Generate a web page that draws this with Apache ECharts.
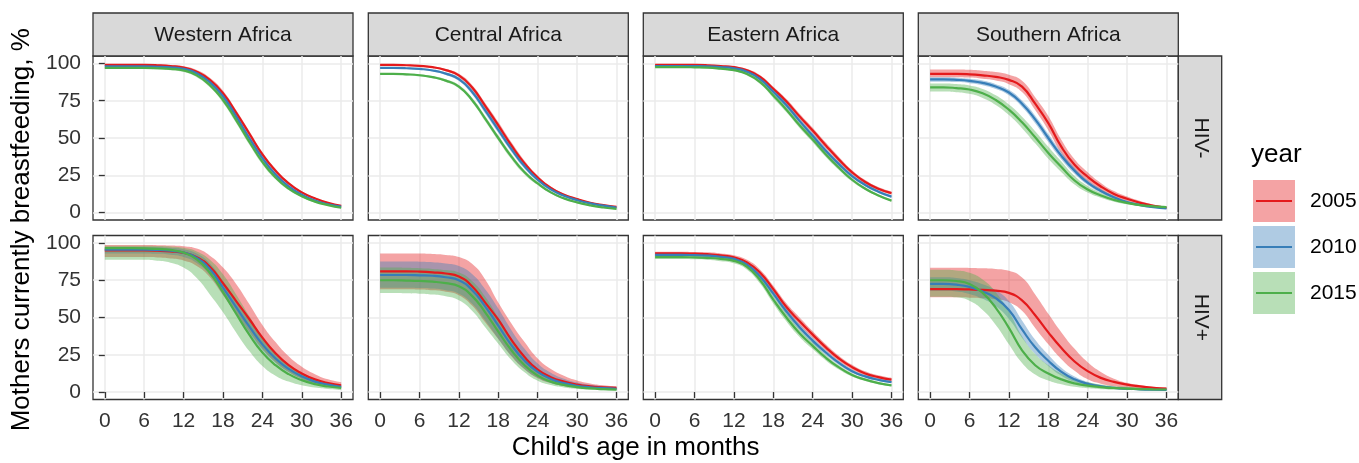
<!DOCTYPE html>
<html><head><meta charset="utf-8">
<script src="https://cdn.jsdelivr.net/npm/echarts@6/dist/echarts.min.js"></script>
<style>html,body{margin:0;padding:0;background:#fff}#c{width:1359px;height:463px}</style>
</head><body><div id="c"></div>
<script>
// ---------- data ----------
const months = [0,2,4,6,8,10,12,14,16,18,20,22,24,26,28,30,32,34,36];
const xTicks = [0,6,12,18,24,30,36];
const yTicks = [0,25,50,75,100];
const regions = ['Western Africa','Central Africa','Eastern Africa','Southern Africa'];
const hivStatus = ['HIV-','HIV+'];
const years = ['2005','2010','2015'];

// Western Africa, HIV-
const wn05   = [99,99,99,99,98.8,98.3,97.3,94.5,89,80,67,53,39,28,19.5,13.5,9.5,6.5,4.5];
const wn05Lo = [98.4,98.4,98.4,98.3,98.1,97.5,96.4,93.3,87.5,78.3,65.2,51.3,37.4,26.7,18.5,12.8,8.9,6.1,4.1];
const wn05Hi = [99.4,99.4,99.4,99.4,99.3,98.9,98.1,95.6,90.4,81.7,68.8,54.7,40.6,29.3,20.5,14.2,10.1,6.9,4.9];
const wn10   = [98,98,98,98,97.8,97.4,96.4,93.5,87.5,78,64.5,50,36.5,25.5,17.5,12,8,5.5,4];
const wn10Lo = [97.5,97.5,97.5,97.4,97.2,96.7,95.6,92.4,86,76.4,62.8,48.3,35,24.4,16.7,11.4,7.5,5.2,3.7];
const wn10Hi = [98.5,98.5,98.5,98.5,98.3,98,97.1,94.5,88.9,79.5,66.2,51.7,38,26.6,18.3,12.6,8.5,5.9,4.3];
const wn15   = [97,97,97,97,96.8,96.4,95.3,92,85.5,75.5,62,47.5,34,23.5,16,11,7.3,5,3.2];
const wn15Lo = [96.3,96.3,96.3,96.2,96,95.5,94.3,90.8,84,73.7,60.1,45.7,32.4,22.3,15.1,10.3,6.8,4.6,2.9];
const wn15Hi = [97.6,97.6,97.6,97.6,97.5,97.2,96.2,93.2,87,77.3,63.9,49.3,35.6,24.7,16.9,11.7,7.8,5.4,3.5];

// Central Africa, HIV-
const cn05   = [99,99,98.8,98.4,97.5,95.5,92,84,71.5,58.5,45,33,23.5,16.5,12,9,6.6,5,3.8];
const cn05Lo = [98.6,98.6,98.4,97.9,96.9,94.7,90.8,82.3,69.4,56.3,42.9,31.2,22.2,15.5,11.2,8.4,6.1,4.6,3.5];
const cn05Hi = [99.3,99.3,99.2,98.8,98,96.2,93.1,85.6,73.5,60.7,47.1,34.8,24.8,17.5,12.8,9.6,7.1,5.4,4.1];
const cn10   = [97,97,96.8,96.3,95.3,93.2,89.5,81,68.5,55.5,42.5,31,22,15.5,11.2,8.3,6.1,4.6,3.4];
const cn10Lo = [96.5,96.5,96.3,95.7,94.6,92.3,88.2,79.3,66.5,53.5,40.6,29.4,20.8,14.6,10.5,7.7,5.7,4.2,3.1];
const cn10Hi = [97.4,97.4,97.2,96.8,95.9,94,90.7,82.6,70.4,57.5,44.4,32.6,23.2,16.4,11.9,8.8,6.5,5,3.7];
const cn15   = [93,93,92.7,92.1,90.8,88.5,84.5,75.5,63,50,37.5,27,19.5,13.5,9.5,6.8,4.8,3.4,2.4];
const cn15Lo = [92.3,92.3,92,91.4,90,87.6,83.3,74,61.2,48.2,35.8,25.6,18.4,12.7,8.9,6.3,4.4,3.1,2.1];
const cn15Hi = [93.6,93.6,93.3,92.8,91.6,89.4,85.6,77,64.8,51.8,39.2,28.4,20.6,14.3,10.1,7.3,5.2,3.7,2.7];

// Eastern Africa, HIV-
const en05   = [99,99,99,99,98.8,98.3,97.5,95.5,91,83,74.5,64.5,55,45,35.5,27,20.5,16,13];
const en05Lo = [98.7,98.7,98.7,98.6,98.4,97.8,96.8,94.6,89.8,81.5,72.8,62.7,53.1,43.1,33.8,25.6,19.3,14.9,12];
const en05Hi = [99.3,99.3,99.3,99.3,99.1,98.7,98.1,96.3,92.1,84.4,76.1,66.3,56.9,46.9,37.3,28.4,21.8,17.1,14.1];
const en10   = [98.3,98.3,98.3,98.2,98,97.5,96.7,94.5,89.5,81,72,61.5,51.5,41.5,32.5,24.5,18.5,14,10.7];
const en10Lo = [98,98,98,97.9,97.6,97,96,93.6,88.3,79.5,70.3,59.7,49.7,39.8,31,23.3,17.5,13.1,9.9];
const en10Hi = [98.6,98.6,98.6,98.5,98.3,97.9,97.3,95.3,90.6,82.4,73.6,63.2,53.3,43.2,34,25.7,19.5,14.9,11.5];
const en15   = [97.5,97.5,97.5,97.4,97.2,96.5,95.5,93,87.5,78.5,69,58.5,49,39,30,22,16,11.5,8];
const en15Lo = [97.1,97.1,97.1,97,96.7,95.9,94.7,92,86.2,76.9,67.2,56.7,47.2,37.3,28.6,20.8,15.1,10.8,7.4];
const en15Hi = [97.9,97.9,97.9,97.8,97.6,97,96.2,93.9,88.7,80,70.7,60.3,50.8,40.7,31.4,23.2,16.9,12.2,8.6];

// Southern Africa, HIV-
const sn05   = [93,93,93,92.7,92,91,89,84.5,73,60,44,32,24,17.5,12.5,9.2,6.5,4.5,3.2];
const sn05Lo = [90.8,90.8,90.8,90.5,89.7,88.5,86.1,80.8,68.7,55.2,39.7,28.5,21.1,15.2,10.7,7.8,5.4,3.7,2.6];
const sn05Hi = [95.9,95.9,95.9,95.7,95.1,94.2,92.4,88.4,77.4,64.8,48.7,35.8,27.1,19.9,14.4,10.7,7.7,5.4,3.9];
const sn10   = [89.3,89.3,89,88.3,87,84.5,80.5,73,62.5,50,38,28,20,14.5,10.2,7,5,3.6,2.8];
const sn10Lo = [87.8,87.8,87.5,86.8,85.4,82.8,78.6,70.8,59.9,47.3,35.6,26,18.5,13.3,9.3,6.3,4.5,3.2,2.5];
const sn10Hi = [90.7,90.7,90.4,89.7,88.5,86.1,82.3,75.1,65,52.7,40.5,30.1,21.6,15.8,11.2,7.7,5.6,4,3.1];
const sn15   = [84,84,83.5,82.5,80,75.5,69,60.5,50.5,40,30.5,21.5,15.5,11.5,8.5,6.5,5,4.2,3.6];
const sn15Lo = [81.2,81.2,80.7,79.6,76.9,72.2,65.4,56.6,46.4,36,27,18.8,13.4,9.9,7.3,5.5,4.2,3.5,3];
const sn15Hi = [86.6,86.6,86.2,85.2,82.9,78.6,72.4,64.3,54.6,44.1,34.2,24.5,17.8,13.3,9.8,7.6,5.9,5,4.3];

// Western Africa, HIV+
const wp05   = [95,95,95,95,94.8,94.3,93.3,90.5,84,73,61,49,36.5,26,18,12.5,8.5,6,4.5];
const wp05Lo = [90.5,90.5,90.5,90.5,90.2,89.5,88.2,84.5,77,65,52.5,40.5,29,20,13.5,9,6,4.2,3];
const wp05Hi = [98.6,98.6,98.6,98.6,98.5,98.3,97.8,96.2,91.5,83.5,72.5,59,45,33.5,24,17,12,8.5,6.5];
const wp10   = [95.5,95.5,95.5,95.5,95.3,94.8,93.5,90,82.5,70,57,44,32,22.5,15.5,10.5,7,5,3.5];
const wp10Lo = [93,93,93,93,92.7,92.1,90.6,86.6,78.5,65.5,52.5,39.5,28.2,19.5,13.2,8.8,5.8,4.1,2.8];
const wp10Hi = [97.3,97.3,97.3,97.3,97.2,96.8,95.8,92.9,86.2,74.4,61.5,48.5,36,25.7,18,12.4,8.4,6,4.3];
const wp15   = [96.5,96.5,96.5,96.4,96,95.3,93.5,89,80,67,52.5,38.5,26.5,18,12,8,5.3,3.7,2.7];
const wp15Lo = [88.8,88.8,88.8,88.7,88,86.8,83.5,76.5,65.5,53.5,40,27.5,17.5,11,7,4.5,3,2,1.3];
const wp15Hi = [98.2,98.2,98.2,98.2,98,97.7,96.7,94.3,88.8,79,65.5,51,37,26.5,18.5,12.5,8.5,6,4.3];

// Central Africa, HIV+
const cp05   = [81,81,81,80.8,80.3,79.5,77.5,71,60,48.5,35,23.5,15,10,7,5,3.8,3.2,2.8];
const cp05Lo = [69,69,69,68.8,68.2,67.3,65,58,46.8,35.5,24,15.3,9.3,6,4.1,2.9,2.2,1.8,1.6];
const cp05Hi = [93,93,93,92.9,92.6,92,90.6,86,75.5,60,46,33.5,22.5,15.5,11,7.8,5.8,4.6,3.9];
const cp10   = [78.5,78.5,78.5,78.3,78,77,75,68.5,57.5,44.5,31.5,21,13.5,8.8,6,4.2,3.2,2.6,2.2];
const cp10Lo = [70,70,70,69.8,69.4,68.3,66,59.2,48,35.8,24.3,15.5,9.6,6.1,4.1,2.8,2.1,1.7,1.4];
const cp10Hi = [87.5,87.5,87.5,87.4,87.1,86.3,84.6,79.2,69,56,41.5,29,19.2,13,9,6.4,4.9,4,3.4];
const cp15   = [75,75,74.8,74.5,74,73,71,64.5,53.5,40.5,28,18,11,7,4.8,3.3,2.4,1.9,1.6];
const cp15Lo = [66.5,66.5,66.3,66,65.4,64.2,61.5,54.5,43.5,32.4,21.5,13.2,7.5,4.7,3.1,2.1,1.5,1.2,1];
const cp15Hi = [83.5,83.5,83.3,83,82.6,81.8,80.2,74.5,64,50,35.5,23.8,15.3,10,7,5,3.7,2.9,2.5];

// Eastern Africa, HIV+
const ep05   = [93,93,93,92.8,92.5,91.7,90.3,87,80,69,57,47.5,38.5,30,22.5,16.7,12.5,10,8.3];
const ep05Lo = [91.8,91.8,91.8,91.6,91.2,90.3,88.7,85.1,77.8,66.6,54.5,45,36.2,27.9,20.7,15.2,11.2,8.8,7.2];
const ep05Hi = [94.1,94.1,94.1,93.9,93.7,93,91.8,88.7,82.1,71.3,59.5,50,40.8,32.1,24.4,18.3,13.9,11.2,9.5];
const ep10   = [92,92,92,91.8,91.5,90.7,89.3,85.5,77.5,66,54,43.5,34.5,26.5,19.5,14,10.5,8.2,6.7];
const ep10Lo = [91,91,91,90.8,90.4,89.5,88,84,75.6,63.9,51.8,41.4,32.6,24.8,18.1,12.9,9.6,7.4,6];
const ep10Hi = [93,93,93,92.8,92.5,91.8,90.5,86.9,79.3,68.1,56.2,45.6,36.4,28.2,20.9,15.2,11.4,9,7.4];
const ep15   = [90.5,90.5,90.5,90.3,90,89.3,88,84,75,62,50,39.5,31,23,16.5,11.5,8.3,6,4.5];
const ep15Lo = [89.2,89.2,89.2,89,88.6,87.8,86.4,82.1,72.6,59.4,47.3,37,28.8,21.2,15.1,10.4,7.4,5.3,3.9];
const ep15Hi = [91.7,91.7,91.7,91.5,91.3,90.7,89.5,85.8,77.3,64.5,52.6,42,33.2,24.8,17.9,12.6,9.2,6.7,5.1];

// Southern Africa, HIV+
const sp05   = [69,69,69,68.8,68.5,68,66.5,61.5,51.5,40,29.5,20.5,14,9.5,6.8,5,3.8,2.8,2.3];
const sp05Lo = [63.5,63.5,63.5,63.3,62.9,62.2,60.3,54.5,43,32,22,14.2,8.5,5.6,3.9,2.8,2.1,1.6,1.3];
const sp05Hi = [83.3,83.3,83.3,83.2,83,82.6,81.3,76.8,65.5,52.5,40,29,20,13.5,9,6.2,4.6,3.6,3];
const sp10   = [72.5,72.5,72,70.5,67.5,63,55,42,30,21,13.5,8.5,5.5,3.8,2.8,2.2,1.8,1.6,1.5];
const sp10Lo = [68,68,67.5,65.8,62.5,57.5,49,36.5,25.5,17.5,11,6.8,4.3,2.9,2.1,1.6,1.3,1.2,1.1];
const sp10Hi = [77,77,76.5,75,72.3,68.2,61,48,35,25,16.3,10.5,6.9,4.8,3.6,2.8,2.3,2,1.9];
const sp15   = [75,75,74.5,72.5,66.5,56.5,43,28,18,12.5,8.5,5.8,4.3,3.3,2.7,2.3,2,1.8,1.7];
const sp15Lo = [64,64,63.5,61.2,55,45,32,19.5,11.8,7.8,5.2,3.5,2.5,1.9,1.5,1.3,1.1,1,1];
const sp15Hi = [82,82,81.6,80,75.5,67,54,37.5,25.5,18,12.5,8.8,6.5,5,4.1,3.5,3.1,2.8,2.6];

// ---------- assembly ----------
const panelSeries = [
  [ // HIV-
    [[wn05,wn05Lo,wn05Hi],[wn10,wn10Lo,wn10Hi],[wn15,wn15Lo,wn15Hi]],
    [[cn05,cn05Lo,cn05Hi],[cn10,cn10Lo,cn10Hi],[cn15,cn15Lo,cn15Hi]],
    [[en05,en05Lo,en05Hi],[en10,en10Lo,en10Hi],[en15,en15Lo,en15Hi]],
    [[sn05,sn05Lo,sn05Hi],[sn10,sn10Lo,sn10Hi],[sn15,sn15Lo,sn15Hi]]
  ],
  [ // HIV+
    [[wp05,wp05Lo,wp05Hi],[wp10,wp10Lo,wp10Hi],[wp15,wp15Lo,wp15Hi]],
    [[cp05,cp05Lo,cp05Hi],[cp10,cp10Lo,cp10Hi],[cp15,cp15Lo,cp15Hi]],
    [[ep05,ep05Lo,ep05Hi],[ep10,ep10Lo,ep10Hi],[ep15,ep15Lo,ep15Hi]],
    [[sp05,sp05Lo,sp05Hi],[sp10,sp10Lo,sp10Hi],[sp15,sp15Lo,sp15Hi]]
  ]
];

const lineColors = ['#E41A1C','#377EB8','#4DAF4A'];
const fillColors = ['rgba(228,26,28,0.4)','rgba(55,126,184,0.4)','rgba(77,175,74,0.4)'];
const FONT = '"Liberation Sans", Arial, sans-serif';

const colLeft = [93, 368.3, 643.3, 918.3];
const rowTop = [56, 235.5];
const PW = 260, PH = 164;
const STRIP_TOP = 13, STRIP_H = 43, STRIP_W = 43.4;
const SMOOTH = 0.5;

const grids = [], xAxes = [], yAxes = [], series = [], graphics = [];
let gi = 0;
for (let r = 0; r < 2; r++) {
  for (let c = 0; c < 4; c++) {
    grids.push({left: colLeft[c], top: rowTop[r], width: PW, height: PH,
      show: true, borderColor: '#333333', borderWidth: 1.3, backgroundColor: '#ffffff',
      containLabel: false});
    xAxes.push({type: 'value', gridIndex: gi, min: -1.8, max: 37.8,
      axisLine: {show: false},
      axisTick: {show: r === 1, length: 6, customValues: xTicks, lineStyle: {color: '#333333', width: 1.3}},
      axisLabel: {show: r === 1, customValues: xTicks, margin: 11, fontSize: 21, color: '#333333', fontFamily: FONT},
      splitLine: {show: true, lineStyle: {color: '#EBEBEB', width: 1.5}}
    });
    yAxes.push({type: 'value', gridIndex: gi, min: -5, max: 105,
      axisLine: {show: false},
      axisTick: {show: c === 0, length: 6, customValues: yTicks, lineStyle: {color: '#333333', width: 1.3}},
      axisLabel: {show: c === 0, customValues: yTicks, margin: 12, fontSize: 21, color: '#333333', fontFamily: FONT},
      splitLine: {show: true, lineStyle: {color: '#EBEBEB', width: 1.5}}
    });
    const ps = panelSeries[r][c];
    // ribbons: invisible lower bound + stacked (upper - lower) band.
    // Data rows are [value, month] with encode so that the stacked dimension is the y value.
    for (let k = 0; k < 3; k++) {
      const [mean, lo, hi] = ps[k];
      const stackName = 'band' + gi + '_' + k;
      series.push({type: 'line', xAxisIndex: gi, yAxisIndex: gi, stack: stackName,
        encode: {x: 1, y: 0},
        data: months.map((m, i) => [lo[i], m]), symbol: 'none', smooth: SMOOTH,
        lineStyle: {opacity: 0, width: 0}, silent: true, z: 2, emphasis: {disabled: true}});
      series.push({type: 'line', xAxisIndex: gi, yAxisIndex: gi, stack: stackName,
        encode: {x: 1, y: 0},
        data: months.map((m, i) => [+(hi[i] - lo[i]).toFixed(3), m]), symbol: 'none', smooth: SMOOTH,
        lineStyle: {opacity: 0, width: 0}, areaStyle: {color: fillColors[k], opacity: 1},
        silent: true, z: 2, emphasis: {disabled: true}});
    }
    // lines
    for (let k = 0; k < 3; k++) {
      const mean = ps[k][0];
      series.push({type: 'line', name: years[k], xAxisIndex: gi, yAxisIndex: gi,
        data: months.map((m, i) => [m, mean[i]]), symbol: 'none', smooth: SMOOTH,
        lineStyle: {color: lineColors[k], width: 2.2}, silent: true, z: 3, emphasis: {disabled: true}});
    }
    gi++;
  }
}

// top strips
for (let c = 0; c < 4; c++) {
  graphics.push({type: 'rect', shape: {x: colLeft[c], y: STRIP_TOP, width: PW, height: STRIP_H},
    style: {fill: '#D9D9D9', stroke: '#333333', lineWidth: 1.3}, silent: true});
  graphics.push({type: 'text', x: colLeft[c] + PW / 2, y: STRIP_TOP + STRIP_H / 2 + 1,
    style: {text: regions[c], fill: '#1A1A1A', font: '21px ' + FONT, align: 'center', verticalAlign: 'middle'}, silent: true});
}
// right strips
for (let r = 0; r < 2; r++) {
  const x0 = colLeft[3] + PW;
  graphics.push({type: 'rect', shape: {x: x0, y: rowTop[r], width: STRIP_W, height: PH},
    style: {fill: '#D9D9D9', stroke: '#333333', lineWidth: 1.3}, silent: true});
  graphics.push({type: 'text', x: x0 + STRIP_W / 2 + 1, y: rowTop[r] + PH / 2, rotation: -Math.PI / 2,
    style: {text: hivStatus[r], fill: '#1A1A1A', font: '21px ' + FONT, align: 'center', verticalAlign: 'middle'}, silent: true});
}
// axis titles
graphics.push({type: 'text', x: (colLeft[0] + colLeft[3] + PW) / 2, y: 448,
  style: {text: "Child's age in months", fill: '#000000', font: '26px ' + FONT, align: 'center', verticalAlign: 'middle'}, silent: true});
graphics.push({type: 'text', x: 22, y: (rowTop[0] + rowTop[1] + PH) / 2 + 2, rotation: Math.PI / 2,
  style: {text: 'Mothers currently breastfeeding, %', fill: '#000000', font: '26px ' + FONT, align: 'center', verticalAlign: 'middle'}, silent: true});
// legend
graphics.push({type: 'text', x: 1251, y: 155,
  style: {text: 'year', fill: '#000000', font: '26px ' + FONT, align: 'left', verticalAlign: 'middle'}, silent: true});
const keyTop = [180, 226, 272];
for (let k = 0; k < 3; k++) {
  graphics.push({type: 'rect', shape: {x: 1253, y: keyTop[k], width: 42, height: 42},
    style: {fill: fillColors[k]}, silent: true});
  graphics.push({type: 'line', shape: {x1: 1256, y1: keyTop[k] + 21, x2: 1292, y2: keyTop[k] + 21},
    style: {stroke: lineColors[k], lineWidth: 2.2}, silent: true});
  graphics.push({type: 'text', x: 1310, y: keyTop[k] + 21,
    style: {text: years[k], fill: '#000000', font: '21px ' + FONT, align: 'left', verticalAlign: 'middle'}, silent: true});
}

const chart = echarts.init(document.getElementById('c'), null, {renderer: 'canvas'});
chart.setOption({
  animation: false,
  backgroundColor: '#ffffff',
  textStyle: {fontFamily: FONT},
  grid: grids, xAxis: xAxes, yAxis: yAxes, series: series,
  graphic: {elements: graphics}
});
</script></body></html>
